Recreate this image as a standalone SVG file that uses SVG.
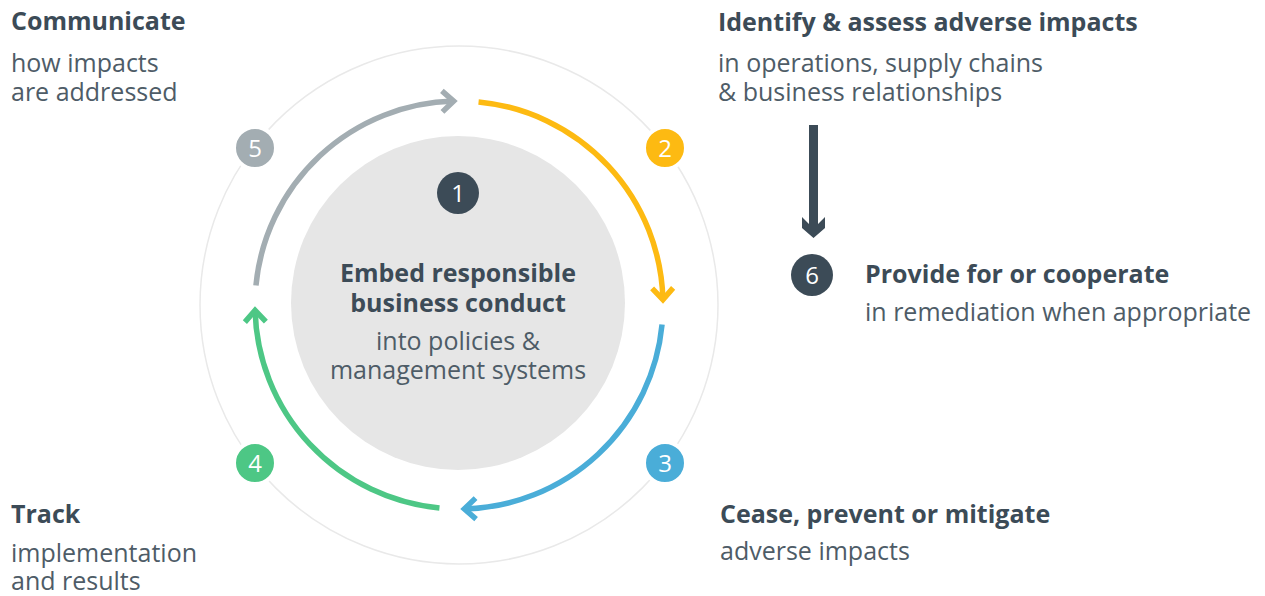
<svg xmlns="http://www.w3.org/2000/svg" width="1265" height="596" viewBox="0 0 1265 596">
<defs>
<style>
.h{font-family:"Open Sans","Liberation Sans",sans-serif;font-weight:700;font-size:25px;fill:#3c4b57}
.b{font-family:"Open Sans","Liberation Sans",sans-serif;font-weight:400;font-size:25px;fill:#4e5c67}
.num{font-family:"Open Sans","Liberation Sans",sans-serif;font-weight:400;font-size:24px;fill:#ffffff;text-anchor:middle}
.arc{fill:none;stroke-width:5.5}
.badge{stroke:#ffffff;stroke-width:4}
</style>
<marker id="mGray" markerUnits="userSpaceOnUse" markerWidth="34" markerHeight="34" viewBox="-17 -17 34 34" refX="0" refY="0" orient="auto"><path d="M-11.5,-10.5 L0,0 L-11.5,10.5" fill="none" stroke="#a3adb2" stroke-width="5.5"/></marker>
<marker id="mYellow" markerUnits="userSpaceOnUse" markerWidth="34" markerHeight="34" viewBox="-17 -17 34 34" refX="0" refY="0" orient="auto"><path d="M-11.5,-10.5 L0,0 L-11.5,10.5" fill="none" stroke="#fdba12" stroke-width="5.5"/></marker>
<marker id="mBlue" markerUnits="userSpaceOnUse" markerWidth="34" markerHeight="34" viewBox="-17 -17 34 34" refX="0" refY="0" orient="auto"><path d="M-11.5,-10.5 L0,0 L-11.5,10.5" fill="none" stroke="#4aadd8" stroke-width="5.5"/></marker>
<marker id="mGreen" markerUnits="userSpaceOnUse" markerWidth="34" markerHeight="34" viewBox="-17 -17 34 34" refX="0" refY="0" orient="auto"><path d="M-11.5,-10.5 L0,0 L-11.5,10.5" fill="none" stroke="#4dc785" stroke-width="5.5"/></marker>
</defs>
<rect width="1265" height="596" fill="#ffffff"/>
<circle cx="459" cy="305" r="259" fill="none" stroke="#e9e9e9" stroke-width="1.5"/>
<g id="node1">
<circle cx="458" cy="303" r="167" fill="#e6e6e6"/>
<circle cx="458" cy="193" r="21" fill="#3c4b57"/>
<text class="num" x="458" y="201.5">1</text>
<text class="h" x="458" y="282" text-anchor="middle">Embed responsible</text>
<text class="h" x="458" y="312" text-anchor="middle">business conduct</text>
<text class="b" x="458" y="350" text-anchor="middle">into policies &amp;</text>
<text class="b" x="458" y="379" text-anchor="middle">management systems</text>
</g>
<g id="connectors">
<path class="arc" stroke="#a3adb2" d="M255.94,285.45 A204,204 0 0 1 453.66,101.07" marker-end="url(#mGray)"/>
<path class="arc" stroke="#fdba12" d="M478.55,101.94 A204,204 0 0 1 662.93,299.66" marker-end="url(#mYellow)"/>
<path class="arc" stroke="#4aadd8" d="M662.06,324.55 A204,204 0 0 1 464.34,508.93" marker-end="url(#mBlue)"/>
<path class="arc" stroke="#4dc785" d="M439.45,508.06 A204,204 0 0 1 255.07,310.34" marker-end="url(#mGreen)"/>
<polygon fill="#3c4b57" points="809,125 818,125 818,224 825,217 825,228 813.5,238 802,228 802,217 809,224"/>
</g>
<g id="node2">
<circle class="badge" cx="665" cy="148" r="21" fill="#fdba12"/>
<text class="num" x="665" y="156.5">2</text>
<text class="h" x="718" y="31">Identify &amp; assess adverse impacts</text>
<text class="b" x="718" y="72">in operations, supply chains</text>
<text class="b" x="718" y="101">&amp; business relationships</text>
</g>
<g id="node3">
<circle class="badge" cx="665" cy="463" r="21" fill="#4aadd8"/>
<text class="num" x="665" y="471.5">3</text>
<text class="h" x="720" y="523">Cease, prevent or mitigate</text>
<text class="b" x="720" y="560">adverse impacts</text>
</g>
<g id="node4">
<circle class="badge" cx="255" cy="463" r="21" fill="#4dc785"/>
<text class="num" x="255" y="471.5">4</text>
<text class="h" x="11" y="523">Track</text>
<text class="b" x="11" y="562">implementation</text>
<text class="b" x="11" y="590">and results</text>
</g>
<g id="node5">
<circle class="badge" cx="255" cy="148" r="21" fill="#a3adb2"/>
<text class="num" x="255" y="156.5">5</text>
<text class="h" x="11" y="30">Communicate</text>
<text class="b" x="11" y="72">how impacts</text>
<text class="b" x="11" y="101">are addressed</text>
</g>
<g id="node6">
<circle cx="812" cy="275" r="21" fill="#3c4b57"/>
<text class="num" x="812" y="283.5">6</text>
<text class="h" x="865" y="283">Provide for or cooperate</text>
<text class="b" x="865" y="321">in remediation when appropriate</text>
</g>
</svg>
